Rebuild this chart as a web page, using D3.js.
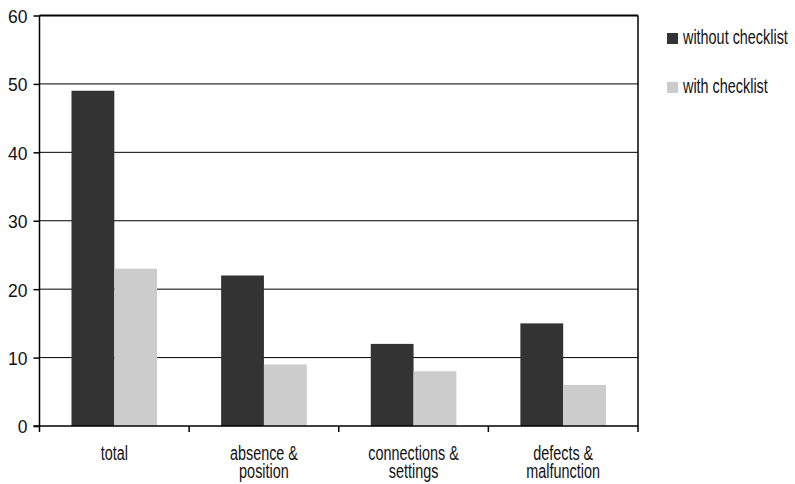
<!DOCTYPE html>
<html>
<head>
<meta charset="utf-8">
<script src="https://cdn.jsdelivr.net/npm/d3@7"></script>
<style>
  html, body { margin: 0; padding: 0; background: #fff; }
  text { font-family: "Liberation Sans", Arial, sans-serif; fill: #111; }
</style>
</head>
<body>
<svg id="chart" width="795" height="484"></svg>
<script>
// Error counts per category, with and without the checklist
const categories = [["total"], ["absence &", "position"], ["connections &", "settings"], ["defects &", "malfunction"]];
const seriesNames = ["without checklist", "with checklist"];
const withoutChecklist = [49, 22, 12, 15];
const withChecklist = [23, 9, 8, 6];
const yTicks = [0, 10, 20, 30, 40, 50, 60];
const colors = ["#333333", "#cccccc"];

const svg = d3.select("#chart");
const plotLeft = 39.5, plotRight = 638, plotTop = 15.5, plotBottom = 426;
const condense = 0.72; // narrow lettering for word labels

// squeeze a text horizontally, keeping its anchor
function narrow(sel) {
  sel.each(function () {
    const w = this.getComputedTextLength();
    d3.select(this).attr("textLength", w * condense).attr("lengthAdjust", "spacingAndGlyphs");
  });
}

const x0 = d3.scaleBand().domain(d3.range(categories.length)).range([plotLeft, plotRight]);
const x1 = d3.scaleBand().domain([0, 1]).range([32, x0.bandwidth() - 32]);
const y = d3.scaleLinear().domain([0, 60]).range([plotBottom, plotTop]);

// horizontal gridlines
svg.append("g").selectAll("line").data(yTicks.filter(d => d > 0)).join("line")
  .attr("x1", plotLeft).attr("x2", plotRight)
  .attr("y1", d => y(d)).attr("y2", d => y(d))
  .attr("stroke", "#000").attr("stroke-width", d => d === 60 ? 2 : 1);

// right frame
svg.append("line").attr("x1", plotRight).attr("x2", plotRight).attr("y1", plotTop).attr("y2", plotBottom)
  .attr("stroke", "#000").attr("stroke-width", 1.5);

// bars
const series = [withoutChecklist, withChecklist];
const groups = svg.append("g").selectAll("g").data(categories).join("g")
  .attr("transform", (d, i) => `translate(${x0(i)},0)`);
groups.selectAll("rect").data((d, i) => series.map((s, k) => ({ k, v: s[i] }))).join("rect")
  .attr("x", d => x1(d.k)).attr("width", x1.bandwidth())
  .attr("y", d => y(d.v)).attr("height", d => y(0) - y(d.v))
  .attr("fill", d => colors[d.k]);

// y axis
const yAxis = svg.append("g").attr("transform", `translate(${plotLeft},0)`)
  .call(d3.axisLeft(y).tickValues(yTicks).tickSize(6).tickPadding(6).tickFormat(d3.format("d")));
yAxis.select(".domain").attr("stroke", "#000").attr("stroke-width", 1.5).attr("d", `M0,${plotTop}V${plotBottom}`);
yAxis.selectAll(".tick line").attr("stroke", "#000").attr("stroke-width", 1.5);
yAxis.selectAll(".tick text").attr("font-size", 19).attr("fill", "#111").attr("dy", "0.36em")
  .style("font-family", "'Liberation Sans', Arial, sans-serif")
  .each(function () {
    const w = this.getComputedTextLength();
    d3.select(this).attr("textLength", w * 0.92).attr("lengthAdjust", "spacingAndGlyphs");
  });

// x axis: ticks at category boundaries
const xAxis = svg.append("g").attr("transform", `translate(0,${plotBottom})`);
xAxis.append("line").attr("x1", plotLeft - 6).attr("x2", plotRight).attr("stroke", "#000").attr("stroke-width", 1.5);
const bounds = d3.range(categories.length + 1).map(i => plotLeft + i * x0.bandwidth());
xAxis.selectAll("line.tk").data(bounds).join("line").attr("class", "tk")
  .attr("x1", d => d).attr("x2", d => d).attr("y1", 0).attr("y2", 6)
  .attr("stroke", "#000").attr("stroke-width", 1.5);
const catLines = categories.flatMap((lines, i) => lines.map((t, j) => ({ i, j, t })));
xAxis.selectAll("text.cat").data(catLines).join("text").attr("class", "cat")
  .attr("text-anchor", "middle").attr("font-size", 20)
  .attr("x", d => x0(d.i) + x0.bandwidth() / 2)
  .attr("y", d => 34 + d.j * 18)
  .text(d => d.t)
  .call(narrow);

// legend
const legend = svg.append("g").selectAll("g").data(seriesNames).join("g")
  .attr("transform", (d, i) => `translate(667,${33 + i * 49})`);
legend.append("rect").attr("width", 11).attr("height", 11).attr("fill", (d, i) => colors[i]);
legend.append("text").attr("x", 16).attr("y", 10.5).attr("font-size", 20).text(d => d).call(narrow);
</script>
</body>
</html>
